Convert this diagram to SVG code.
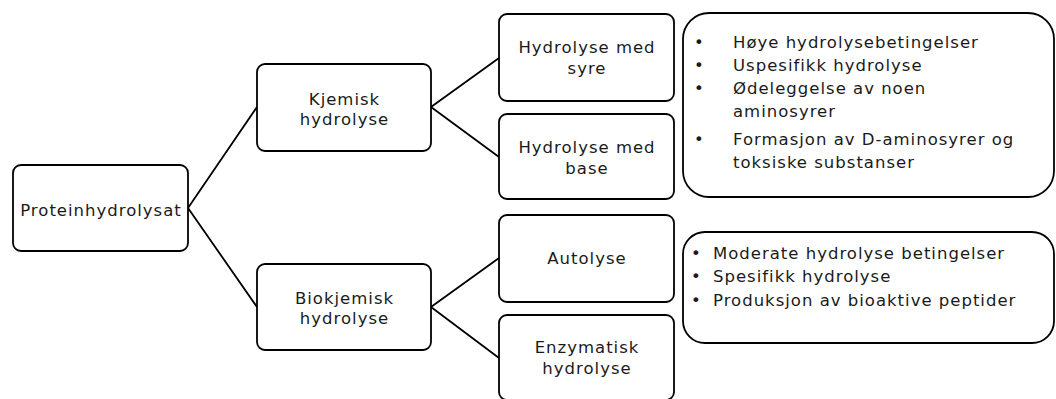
<svg xmlns="http://www.w3.org/2000/svg" width="1056" height="399" viewBox="0 0 1056 399">
<style>
.box{fill:#fff;stroke:#000;stroke-width:1.8}
.t{font-family:"DejaVu Sans",Verdana,sans-serif;font-size:16.5px;letter-spacing:1px;fill:#1a1a1a}
.c{text-anchor:middle}
.ln{stroke:#000;stroke-width:1.8;fill:none}
</style>
<rect width="1056" height="399" fill="#fff"/>
<g id="connectors">
<path class="ln" d="M188,208 L257,107 M188,208 L257,307"/>
<path class="ln" d="M431,107 L499,58 M431,107 L499,157"/>
<path class="ln" d="M431,307 L499,258 M431,307 L499,358"/>
</g>
<g id="protein">
<rect class="box" x="13" y="165" width="175" height="86" rx="8"/>
<text class="t c" x="101" y="215.5">Proteinhydrolysat</text>
</g>
<g id="kjemisk">
<rect class="box" x="257" y="64" width="174" height="87" rx="8"/>
<text class="t c" x="344.5" y="104.5">Kjemisk</text>
<text class="t c" x="344.5" y="124.5">hydrolyse</text>
</g>
<g id="biokjemisk">
<rect class="box" x="257" y="264" width="174" height="86" rx="8"/>
<text class="t c" x="344.5" y="303.5">Biokjemisk</text>
<text class="t c" x="344.5" y="323.5">hydrolyse</text>
</g>
<g id="syre">
<rect class="box" x="499" y="14" width="175" height="87" rx="8"/>
<text class="t c" x="587" y="52.5">Hydrolyse med</text>
<text class="t c" x="587" y="73.5">syre</text>
</g>
<g id="base">
<rect class="box" x="499" y="114" width="175" height="85" rx="8"/>
<text class="t c" x="587" y="152.5">Hydrolyse med</text>
<text class="t c" x="587" y="173.5">base</text>
</g>
<g id="autolyse">
<rect class="box" x="499" y="215" width="175" height="87" rx="8"/>
<text class="t c" x="587" y="263.5">Autolyse</text>
</g>
<g id="enzymatisk">
<rect class="box" x="499" y="315" width="175" height="85" rx="8"/>
<text class="t c" x="587" y="352.5">Enzymatisk</text>
<text class="t c" x="587" y="373.5">hydrolyse</text>
</g>
<g id="kjemisk-info">
<rect class="box" x="683" y="13" width="371" height="184" rx="26"/>
<text class="t" x="694" y="47.5">•</text><text class="t" x="733" y="47.5">Høye hydrolysebetingelser</text>
<text class="t" x="694" y="70.5">•</text><text class="t" x="733" y="70.5">Uspesifikk hydrolyse</text>
<text class="t" x="694" y="94">•</text><text class="t" x="733" y="94">Ødeleggelse av noen</text>
<text class="t" x="733" y="117">aminosyrer</text>
<text class="t" x="694" y="145">•</text><text class="t" x="733" y="145">Formasjon av D-aminosyrer og</text>
<text class="t" x="733" y="168">toksiske substanser</text>
</g>
<g id="bio-info">
<rect class="box" x="683" y="232" width="371" height="111" rx="22"/>
<text class="t" x="691" y="258.5">•</text><text class="t" x="713" y="258.5">Moderate hydrolyse betingelser</text>
<text class="t" x="691" y="282">•</text><text class="t" x="713" y="282">Spesifikk hydrolyse</text>
<text class="t" x="691" y="305.5">•</text><text class="t" x="713" y="305.5">Produksjon av bioaktive peptider</text>
</g>
</svg>
